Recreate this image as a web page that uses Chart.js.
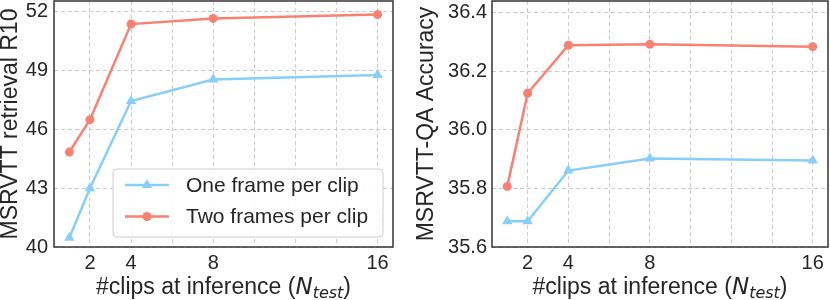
<!DOCTYPE html>
<html>
<head>
<meta charset="utf-8">
<script src="https://cdn.jsdelivr.net/npm/chart.js@4"></script>
<style>
  html, body { margin: 0; padding: 0; background: #fff; }
  #wrap { position: relative; width: 830px; height: 300px; }
  .box { position: absolute; top: 0; height: 300px; }
</style>
</head>
<body>
<div id="wrap">
  <div class="box" style="left:0;width:400px"><canvas id="left"></canvas></div>
  <div class="box" style="left:415px;width:415px"><canvas id="right"></canvas></div>
</div>
<script>
// clips at inference
const clips = [1, 2, 4, 8, 16]
const xGrid = [2, 4, 6, 8, 10, 12, 14, 16]
const xLabels = [2, 4, 8, 16]

// MSRVTT retrieval R10
const r10One = [40.47, 43.0, 47.45, 48.55, 48.78]
const r10Two = [44.85, 46.5, 51.38, 51.67, 51.87]
const r10Ticks = [40, 43, 46, 49, 52]

// MSRVTT-QA accuracy
const qaOne = [35.688, 35.688, 35.861, 35.902, 35.895]
const qaTwo = [35.807, 36.125, 36.289, 36.292, 36.284]
const qaTicks = [35.6, 35.8, 36.0, 36.2, 36.4]

const seriesNames = ['One frame per clip', 'Two frames per clip']
const BLUE = '#87CEFA'
const RED = '#FA8072'
const TEXT = '#262626'
const FONT = 'Liberation Sans'
const MATH = 'DejaVu Sans'

Chart.defaults.font.family = FONT
Chart.defaults.color = TEXT

const pts = (ys) => clips.map((x, i) => ({ x, y: ys[i] }))

// no auto padding round the plot area
const noPad = (s) => {
  s.paddingTop = 0
  s.paddingBottom = 0
  s.paddingLeft = 0
  s.paddingRight = 0
}

// axes frame + x title with italic N_test
const framePlugin = {
  id: 'frame',
  afterDraw(chart) {
    const { ctx, chartArea: a } = chart
    ctx.save()
    ctx.strokeStyle = '#333'
    ctx.lineWidth = 1.5
    ctx.strokeRect(a.left, a.top, a.right - a.left, a.bottom - a.top)

    const parts = [
      { t: '#clips at inference (', f: `23px "${FONT}"`, dy: 0 },
      { t: 'N', f: `italic 23px "${MATH}"`, dy: 0 },
      { t: 'test', f: `italic 16px "${MATH}"`, dy: 4 },
      { t: ')', f: `23px "${FONT}"`, dy: 0 },
    ]
    let w = 0
    parts.forEach((p) => {
      ctx.font = p.f
      p.w = ctx.measureText(p.t).width
      w += p.w
    })
    let x = (a.left + a.right) / 2 - w / 2
    const base = a.bottom + 47
    ctx.fillStyle = TEXT
    ctx.textBaseline = 'alphabetic'
    ctx.textAlign = 'left'
    parts.forEach((p) => {
      ctx.font = p.f
      ctx.fillText(p.t, x, base + p.dy)
      x += p.w
    })
    ctx.restore()
  },
}

// legend inside the axes, lower right
const boxLegend = {
  id: 'boxLegend',
  afterDatasetsDraw(chart, args, opts) {
    if (!opts.show) return
    const { ctx, chartArea: a } = chart
    const w = 270, h = 68
    const left = a.right - 10 - w
    const top = a.bottom - 10 - h
    ctx.save()
    ctx.beginPath()
    ctx.roundRect(left, top, w, h, 4)
    ctx.fillStyle = 'rgba(255,255,255,0.85)'
    ctx.fill()
    ctx.strokeStyle = '#cccccc'
    ctx.lineWidth = 1
    ctx.stroke()
    chart.data.datasets.forEach((ds, i) => {
      const y = top + 16 + i * 31.5
      ctx.strokeStyle = ds.borderColor
      ctx.lineWidth = 2.5
      ctx.beginPath()
      ctx.moveTo(left + 12, y)
      ctx.lineTo(left + 56, y)
      ctx.stroke()
      ctx.fillStyle = ds.backgroundColor
      Chart.helpers.drawPoint(ctx, { pointStyle: ds.pointStyle, radius: ds.pointRadius, borderWidth: 0 }, left + 34, y)
      ctx.fillStyle = TEXT
      ctx.font = `21px "${FONT}"`
      ctx.textBaseline = 'middle'
      ctx.fillText(ds.label, left + 73, y + 1)
    })
    ctx.restore()
  },
}

function makeChart(id, one, two, ticks, yMin, yMax, title, yWidth, padRight, titlePad, tickPad, digits, legend) {
  return new Chart(document.getElementById(id), {
    type: 'scatter',
    data: {
      datasets: [
        {
          label: seriesNames[0],
          data: pts(one),
          showLine: true,
          borderColor: BLUE,
          backgroundColor: BLUE,
          borderWidth: 2.5,
          pointStyle: 'triangle',
          pointRadius: 6,
          pointBorderWidth: 0,
        },
        {
          label: seriesNames[1],
          data: pts(two),
          showLine: true,
          borderColor: RED,
          backgroundColor: RED,
          borderWidth: 2.5,
          pointStyle: 'circle',
          pointRadius: 4.5,
          pointBorderWidth: 0,
        },
      ],
    },
    options: {
      responsive: true,
      maintainAspectRatio: false,
      animation: false,
      layout: { autoPadding: false, padding: { top: 1, right: padRight, bottom: 0, left: 0 } },
      scales: {
        x: {
          type: 'linear',
          min: 0.25,
          max: 16.75,
          afterBuildTicks: (s) => { s.ticks = xGrid.map((v) => ({ value: v })) },
          afterFit: (s) => { s.height = 53; noPad(s) },
          ticks: {
            font: { size: 20 },
            color: TEXT,
            padding: 4,
            maxRotation: 0,
            autoSkip: false,
            callback: (v) => (xLabels.includes(v) ? String(v) : ''),
          },
          grid: { color: '#cccccc', lineWidth: 1, drawTicks: false },
          border: { display: false, dash: [4, 3] },
        },
        y: {
          min: yMin,
          max: yMax,
          afterBuildTicks: (s) => { s.ticks = ticks.map((v) => ({ value: v })) },
          afterFit: (s) => { s.width = yWidth; noPad(s) },
          ticks: {
            font: { size: 20 },
            color: TEXT,
            padding: tickPad,
            callback: (v) => v.toFixed(digits),
          },
          grid: { color: '#cccccc', lineWidth: 1, drawTicks: false },
          border: { display: false, dash: [4, 3] },
          title: {
            display: true,
            text: title,
            font: { size: 23, lineHeight: 0.8 },
            color: TEXT,
            padding: { top: titlePad, bottom: 0 },
          },
        },
      },
      plugins: {
        legend: { display: false },
        tooltip: { enabled: false },
        boxLegend: { show: legend },
      },
    },
    plugins: [framePlugin, boxLegend],
  })
}

makeChart('left', r10One, r10Two, r10Ticks, 40, 52.56, 'MSRVTT retrieval R10', 54, 7, 1, 6, 0, true)
makeChart('right', qaOne, qaTwo, qaTicks, 35.6, 36.44, 'MSRVTT-QA Accuracy', 77, 2, 2.3, 5, 1, false)
</script>
</body>
</html>
